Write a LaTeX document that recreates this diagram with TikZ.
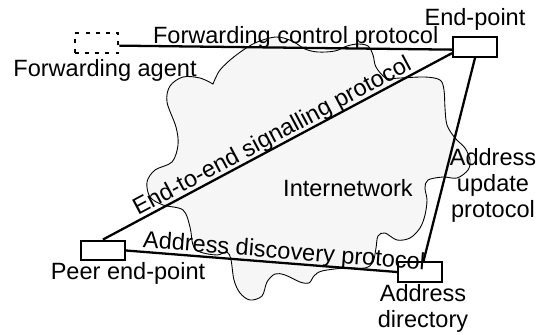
\documentclass[tikz,border=0pt]{standalone}
\usepackage{fontspec}
\setmainfont{Liberation Sans}
\usetikzlibrary{positioning}
\definecolor{cloudgray}{RGB}{246,246,246}

\begin{document}
\begin{tikzpicture}[x=0.02cm, y=-0.02cm,
  every node/.style={align=center, font=\fontsize{13.4}{14.8}\selectfont, inner sep=1pt},
  box/.style={draw, line width=1.4pt, fill=white, minimum width=0.87cm, minimum height=0.39cm, inner sep=0pt},
  link/.style={line width=1.3pt}]
\useasboundingbox (0,0) rectangle (552,335);

% Cloud
\draw[fill=cloudgray, line width=0.5pt] plot[smooth, tension=0.55] coordinates {
  (213,84) (200,78) (183,77) (170,86) (167,102) (176,127) (178,145) (172,162)
  (155,170) (147,182) (150,197) (163,205) (183,210) (190,227) (193,245) (200,252)
  (217,255) (227,252) (231,260) (234,280) (240,293) (250,300) (262,296) (267,282)
  (275,274) (285,275) (300,282) (309,283) (314,276) (322,271) (345,268) (365,268)
  (373,262) (376,248) (378,236) (385,233) (397,240) (410,238) (420,228) (425,215)
  (427,200) (425,188) (428,180) (443,177) (457,178) (468,170) (470,160) (465,148)
  (455,138) (447,125) (445,108) (444,90) (440,80) (425,77) (400,78) (386,78)
  (376,67) (373,55) (368,46) (358,44) (347,46) (335,51) (318,52) (305,49)
  (292,41) (276,37) (255,43) (235,56) (220,70) (213,84)} -- cycle;

% Nodes
\node[box, dash pattern=on 2.2pt off 3.6pt] (fwd) at (96.5,43) {};
\node[box] (ep) at (475,47) {};
\node[box] (peer) at (103,250.5) {};
\node[box] (addr) at (420,272) {};

% Arrows
\draw[link] ([yshift=-1.5pt]fwd.east) -- ([yshift=-1.5pt]ep.west)
  node[pos=0.53, above=-2pt] (fcp) {Forwarding control protocol};
\draw[link] (peer.north) -- (ep.195)
  node[midway, sloped, above=-2pt] (e2e) {End-to-end signalling protocol};
\draw[link] (peer.east) -- (addr.west)
  node[pos=0.58, sloped, above=-2pt] (adp) {Address discovery protocol};
\draw[link] (ep.south) -- ([xshift=2pt]addr.north);

% Labels
\node (fwdlbl) at (105,70) {Forwarding agent};
\node (eplbl) at (475,19) {End-point};
\node (peerlbl) at (128,273) {Peer end-point};
\node (addrlbl) at (423,308) {Address\\directory};
\node (auplbl) at (493,185) {Address\\update\\protocol};
\node (inet) at (348,188) {Internetwork};
\end{tikzpicture}
\end{document}
